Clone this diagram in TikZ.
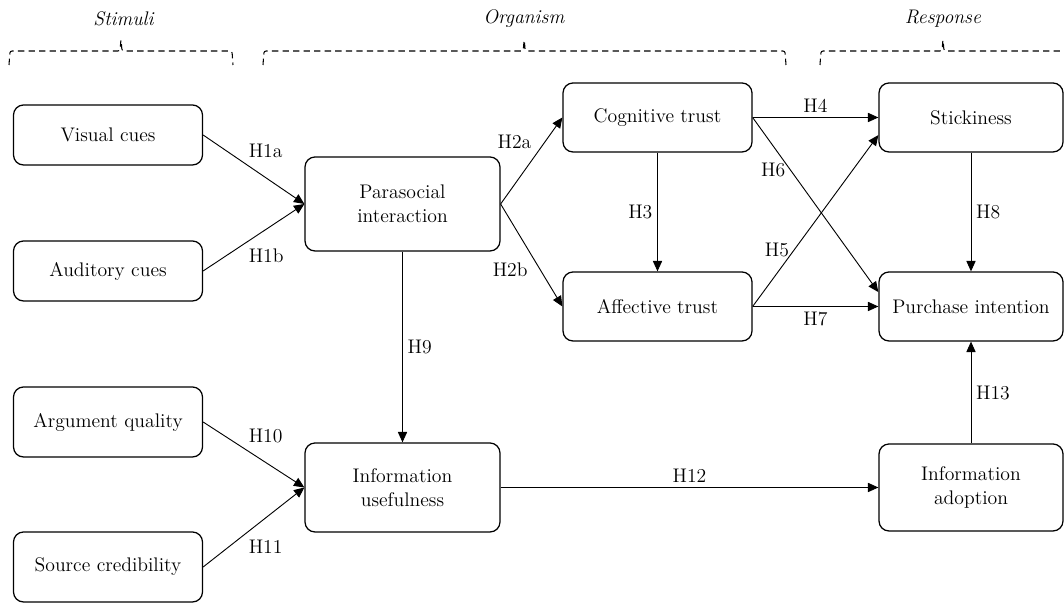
\documentclass[tikz,border=0pt]{standalone}
\usepackage{amsmath}
\usepackage{tikz}
\usetikzlibrary{arrows.meta}

\begin{document}
\begin{tikzpicture}[font=\fontsize{14}{17}\selectfont,
	box/.style={shape=rectangle,draw=black,rounded corners=0.25cm,line width=0.9pt,align=center,inner sep=0pt},
	link/.style={line width=0.65pt,-{Triangle[length=2.6mm,width=2.3mm]}},
	group/.style={dash pattern=on 4.5pt off 3pt,line width=0.75pt,rounded corners=1.5pt}]
	\useasboundingbox (0,0) rectangle (26.6,15.075);

	% S-O-R headings
	\node (stim) at (3.1, 14.6)     {\textit{Stimuli}};
	\node (orga) at (13.1, 14.6)    {\textit{Organism}};
	\node (resp) at (23.575, 14.6)  {\textit{Response}};
	\draw[group] (0.225,13.45) -- (0.25,13.8) -- (3.0,13.8) -- (3.025,14.1) -- (3.05,13.8) -- (5.8,13.8) -- (5.825,13.45);
	\draw[group] (6.575,13.45) -- (6.6,13.8) -- (13.08,13.8) -- (13.105,14.1) -- (13.13,13.8) -- (19.625,13.8) -- (19.65,13.45);
	\draw[group] (20.5,13.45) -- (20.525,13.8) -- (23.55,13.8) -- (23.575,14.1) -- (23.6,13.8) -- (26.65,13.8);

	\node[box,minimum width=4.725cm,minimum height=1.5cm] (vis) at (2.7, 11.7)       {Visual cues};
	\node[box,minimum width=4.725cm,minimum height=1.5cm] (aud) at (2.7, 8.3)        {Auditory cues};
	\node[box,minimum width=4.725cm,minimum height=1.75cm] (arg) at (2.7, 4.525)     {Argument quality};
	\node[box,minimum width=4.725cm,minimum height=1.75cm] (src) at (2.7, 0.9)       {Source credibility};
	\node[box,minimum width=4.875cm,minimum height=2.35cm] (psi) at (10.0625, 9.975)  {Parasocial\\interaction};
	\node[box,minimum width=4.875cm,minimum height=2.225cm] (use) at (10.0625, 2.8875) {Information\\usefulness};
	\node[box,minimum width=4.725cm,minimum height=1.725cm] (cog) at (16.4375, 12.1375) {Cognitive trust};
	\node[box,minimum width=4.725cm,minimum height=1.725cm] (aff) at (16.4375, 7.4125)  {Affective trust};
	\node[box,minimum width=4.6cm,minimum height=1.725cm] (sti) at (24.275, 12.1375)    {Stickiness};
	\node[box,minimum width=4.6cm,minimum height=1.725cm] (pur) at (24.275, 7.4125)     {Purchase intention};
	\node[box,minimum width=4.6cm,minimum height=2.175cm] (ado) at (24.275, 2.8875)     {Information\\adoption};

	\path[link] (vis.east) edge node[pos=0.4,above right]{H1a} (psi.west);
	\path[link] (aud.east) edge node[pos=0.4,below right]{H1b} (psi.west);
	\path[link] (psi.east) edge node[pos=0.58,above left]{H2a} (cog.west);
	\path[link] (psi.east) edge node[pos=0.52,below left]{H2b} (aff.west);
	\path[link] (cog) edge node[left]{H3} (aff);
	\path[link] (cog.east) edge node[above]{H4} (sti.west);
	\path[link] (aff.east) edge node[pos=0.33,left]{H5} ([yshift=-0.44cm]sti.west);
	\path[link] (cog.east) edge node[pos=0.3,left]{H6} ([yshift=0.36cm]pur.west);
	\path[link] (aff.east) edge node[below]{H7} (pur.west);
	\path[link] (sti) edge node[right]{H8} (pur);
	\path[link] (psi) edge node[right]{H9} (use);
	\path[link] (arg.east) edge node[pos=0.4,above right]{H10} (use.west);
	\path[link] (src.east) edge node[pos=0.4,below right]{H11} (use.west);
	\path[link] (use.east) edge node[above]{H12} (ado.west);
	\path[link] (ado) edge node[right]{H13} (pur);

\end{tikzpicture}
\end{document}
